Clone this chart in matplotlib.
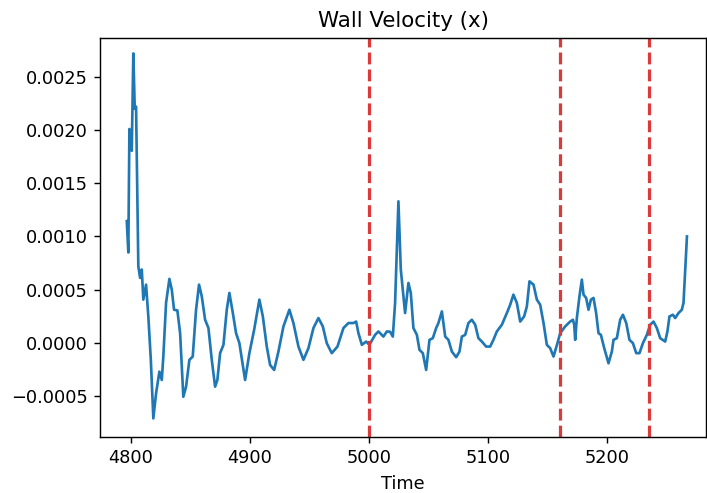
import matplotlib
matplotlib.use("Agg")
import matplotlib.pyplot as plt
import numpy as np

time = [4796.4, 4797.7, 4798.6, 4800.6, 4800.8, 4801.9, 4803.1, 4804.2, 4806.1, 4807.6,
        4809.0, 4810.3, 4812.6, 4814.5, 4816.6, 4818.7, 4821.0, 4823.8, 4825.8, 4827.1,
        4829.4, 4832.2, 4834.2, 4836.1, 4838.9, 4841.2, 4843.9, 4846.2, 4849.0, 4851.8,
        4854.6, 4857.1, 4859.4, 4862.2, 4865.0, 4867.8, 4870.6, 4872.5, 4874.8, 4877.6,
        4880.4, 4882.6, 4885.5, 4888.2, 4891.0, 4895.8, 4899.4, 4903.4, 4907.8, 4910.7,
        4914.0, 4916.8, 4920.2, 4923.8, 4928.0, 4933.0, 4936.4, 4940.6, 4944.8, 4949.0,
        4953.2, 4957.4, 4961.1, 4964.4, 4968.6, 4973.4, 4978.4, 4982.6, 4986.8, 4989.1,
        4991.0, 4993.9, 4997.5, 5000.2, 5005.0, 5007.8, 5012.0, 5014.9, 5017.6, 5019.9,
        5021.8, 5024.6, 5026.6, 5028.8, 5030.2, 5033.0, 5035.0, 5037.2, 5040.1, 5042.3,
        5045.1, 5047.9, 5050.7, 5053.5, 5056.3, 5058.2, 5061.1, 5063.9, 5066.6, 5069.5,
        5073.1, 5075.9, 5077.9, 5080.7, 5083.4, 5086.3, 5089.1, 5091.8, 5094.7, 5098.3,
        5101.7, 5104.4, 5107.3, 5111.5, 5115.7, 5118.5, 5121.2, 5124.1, 5126.9, 5130.2,
        5132.5, 5134.7, 5138.1, 5140.9, 5143.7, 5146.5, 5149.3, 5152.1, 5154.9, 5158.2,
        5160.5, 5164.7, 5168.9, 5171.2, 5172.3, 5173.1, 5174.5, 5176.7, 5178.7, 5180.1,
        5182.3, 5184.3, 5186.3, 5188.5, 5190.7, 5192.7, 5194.7, 5197.5, 5201.1, 5203.9,
        5205.3, 5208.1, 5210.9, 5213.2, 5216.0, 5218.7, 5221.6, 5224.4, 5227.1, 5230.0,
        5233.3, 5236.1, 5238.9, 5241.7, 5244.5, 5248.7, 5250.6, 5252.3, 5255.2, 5257.1,
        5259.9, 5262.7, 5264.1, 5267.0]

velocity_e4 = [11.44, 8.49, 20.1, 18.05, 19.6, 27.2, 22.0, 22.2, 7.2, 6.1,
               6.89, 4.06, 5.47, 2.48, -1.6, -7.1, -4.75, -2.71, -3.49, -1.29,
               3.75, 6.01, 5.0, 3.11, 3.05, 0.91, -5.07, -4.12, -1.6, -1.29,
               3.11, 5.47, 4.37, 2.17, 1.39, -1.6, -4.12, -3.49, -0.97, -0.19,
               3.11, 4.69, 2.8, 0.91, -0.03, -3.49, -0.97, 1.23, 4.06, 2.48,
               -0.35, -2.08, -2.55, -0.82, 1.54, 3.11, 1.86, -0.35, -1.6, -0.5,
               1.39, 2.33, 1.54, -0.03, -0.97, -0.35, 1.39, 1.86, 1.86, 2.0,
               0.91, -0.19, 0.12, -0.19, 0.75, 1.07, 0.59, 1.07, 1.04, 0.59,
               3.75, 13.3, 6.89, 4.37, 2.8, 5.63, 4.69, 1.39, 0.75, -0.66,
               -0.97, -2.55, 0.28, 0.44, 1.39, 1.86, 2.95, 0.59, 0.28, -0.82,
               -1.35, -0.82, 0.59, 0.75, 1.86, 2.17, 1.7, 0.44, 0.12, -0.35,
               -0.35, 0.28, 1.07, 1.7, 2.8, 3.58, 4.53, 3.75, 2.0, 2.48,
               3.42, 5.78, 5.47, 4.06, 3.58, 1.86, -0.19, -0.5, -1.29, -0.03,
               0.91, 1.54, 2.0, 2.17, 1.7, 0.28, 2.33, 4.37, 5.94, 4.53,
               4.22, 3.11, 4.06, 4.22, 2.8, 0.91, 0.75, -0.5, -1.92, -0.82,
               0.28, 0.44, 2.17, 2.64, 1.86, 0.28, -0.03, -0.97, -0.97, -0.03,
               0.75, 1.7, 2.0, 1.39, 0.44, 0.12, 1.07, 2.48, 2.64, 2.33,
               2.8, 3.11, 3.75, 10.0]

event_times = [5000, 5160, 5235]

velocity = np.array(velocity_e4) * 1e-4

dpi = 128
fig = plt.figure(figsize=(707 / dpi, 493 / dpi), dpi=dpi)
ax = fig.add_axes([100 / 707, 1 - 437 / 493, 606 / 707, (437 - 38) / 493])
ax.plot(time, velocity, color="#1f77b4", linewidth=1.5, solid_joinstyle="round")
for t in event_times:
    ax.axvline(t, color="#dc3a3a", linestyle="--", linewidth=1.8)

ax.set_xlim(4773.9, 5283)
ax.set_ylim(-0.000885, 0.002865)
ax.set_xticks([4800, 4900, 5000, 5100, 5200])
ax.set_yticks([-0.0005, 0.0, 0.0005, 0.0010, 0.0015, 0.0020, 0.0025])
ax.set_yticklabels(["\u22120.0005", "0.0000", "0.0005", "0.0010", "0.0015", "0.0020", "0.0025"])
ax.set_xlabel("Time")
ax.set_title("Wall Velocity (x)")

fig.savefig("out.png", dpi=dpi)
